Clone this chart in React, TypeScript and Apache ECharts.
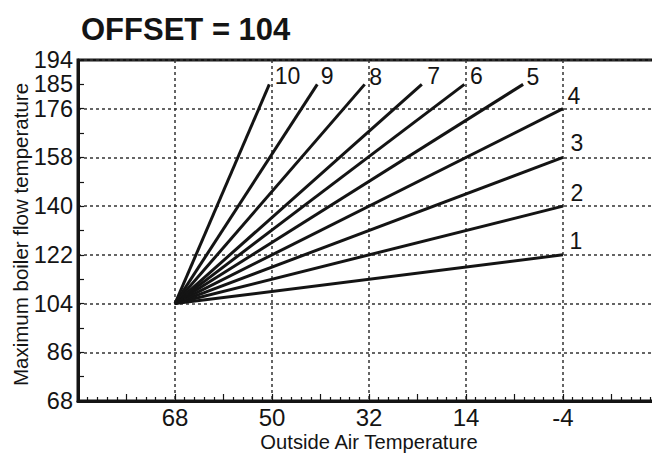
import React, { useEffect, useRef } from "react";
import * as echarts from "echarts";

// ---- data ----
const curveNames = ["1", "2", "3", "4", "5", "6", "7", "8", "9", "10"];
const originX = 68; // outside air temperature where all curves start
const originY = 104; // offset
const endX = [-4, -4, -4, -4, 3.4, 14.3, 22.2, 32.8, 41.6, 50.5];
const endY = [122, 140, 158, 176, 185, 185, 185, 185, 185, 185];
const xTickLabels = [68, 50, 32, 14, -4];
const yTickLabels = [68, 86, 104, 122, 140, 158, 176, 185, 194];
const titleText = "OFFSET = 104";
const xName = "Outside Air Temperature";
const yName = "Maximum boiler flow temperature";

// ---- styling ----
const labelOffsets: [number, number][] = [
  [6, -14],
  [7, -13],
  [7, -14],
  [4, -13],
  [3, -7],
  [5, -8],
  [5, -8],
  [4, -7],
  [3, -8],
  [5, -8],
];
const INK = "#141414";
const FONT = "'Liberation Sans', Arial, Helvetica, sans-serif";

export default function App() {
  const ref = useRef<HTMLDivElement>(null);

  useEffect(() => {
    if (!ref.current) return;
    const chart = echarts.init(ref.current, undefined, { renderer: "svg" });

    const lineSeries = curveNames.map((name, i) => ({
      type: "line",
      name,
      xAxisIndex: 0,
      yAxisIndex: 0,
      symbol: "none",
      silent: true,
      lineStyle: { color: INK, width: 3 },
      data: [
        [originX, originY],
        [endX[i], endY[i]],
      ],
      z: 5,
    }));

    const labelSeries = {
      type: "scatter",
      xAxisIndex: 0,
      yAxisIndex: 0,
      symbolSize: 1,
      itemStyle: { color: "rgba(0,0,0,0)", opacity: 1 },
      silent: true,
      data: curveNames.map((name, i) => ({
        value: [endX[i], endY[i], name],
        label: {
          show: true,
          position: "right",
          distance: 0,
          offset: labelOffsets[i],
          formatter: name,
          color: INK,
          opacity: 1,
          textBorderWidth: 0,
          fontSize: 23,
          fontFamily: FONT,
        },
      })),
      z: 6,
    };

    const dotted = { color: "#333", width: 1.5, type: [3, 3] as any };

    chart.setOption({
      animation: false,
      backgroundColor: "#ffffff",
      title: {
        text: titleText,
        left: 76,
        top: 9,
        textStyle: {
          fontSize: 31,
          fontWeight: "bold",
          color: INK,
          fontFamily: FONT,
        },
      },
      grid: {
        left: 78,
        top: 60,
        right: -8,
        bottom: 52,
        containLabel: false,
        outerBoundsMode: "none",
        show: true,
        borderColor: INK,
        borderWidth: 3,
        backgroundColor: "transparent",
      },
      xAxis: [
        {
          type: "value",
          inverse: true,
          min: -22,
          max: 86,
          interval: 9,
          position: "bottom",
          name: xName,
          nameLocation: "middle",
          nameGap: 31,
          nameMoveOverlap: false,
          nameTextStyle: { fontSize: 20.2, color: INK, fontFamily: FONT },
          axisLine: { show: true, onZero: false, lineStyle: { color: INK, width: 3 } },
          axisTick: {
            show: true,
            inside: true,
            length: 7,
            lineStyle: { color: INK, width: 1.2 },
          },
          minorTick: {
            show: true,
            splitNumber: 5,
            length: 4,
            lineStyle: { color: INK, width: 1.2 },
          },
          axisLabel: {
            show: true,
            margin: 4,
            fontSize: 24,
            color: INK,
            fontFamily: FONT,
            formatter: (v: number) =>
              xTickLabels.includes(Math.round(v)) ? String(Math.round(v)) : "",
          },
          splitLine: { show: false },
        },
        {
          type: "value",
          inverse: true,
          min: -22,
          max: 86,
          interval: 18,
          position: "top",
          axisLine: { show: false, onZero: false },
          axisTick: { show: false },
          axisLabel: { show: false },
          splitLine: { show: true, lineStyle: dotted },
        },
      ],
      yAxis: [
        {
          type: "value",
          min: 68,
          max: 194,
          interval: 9,
          position: "left",
          name: yName,
          nameLocation: "middle",
          nameGap: 47,
          nameMoveOverlap: false,
          nameTextStyle: {
            fontSize: 20.5,
            color: INK,
            fontFamily: FONT,
            padding: [0, 8, 0, 0],
          },
          axisLine: { show: true, onZero: false, lineStyle: { color: INK, width: 3 } },
          axisTick: {
            show: true,
            inside: true,
            length: 6,
            lineStyle: { color: INK, width: 1.2 },
          },
          axisLabel: {
            show: true,
            margin: 5,
            fontSize: 23.5,
            color: INK,
            fontFamily: FONT,
            formatter: (v: number) =>
              yTickLabels.includes(Math.round(v)) ? String(Math.round(v)) : "",
          },
          splitLine: { show: false },
        },
        {
          type: "value",
          min: 68,
          max: 194,
          interval: 18,
          position: "right",
          axisLine: { show: false, onZero: false },
          axisTick: { show: false },
          axisLabel: { show: false },
          splitLine: { show: true, lineStyle: dotted },
        },
      ],
      series: [...lineSeries, labelSeries],
    } as any);

    return () => {
      chart.dispose();
    };
  }, []);

  return (
    <div
      ref={ref}
      style={{
        position: "absolute",
        left: 0,
        top: 0,
        width: 652,
        height: 453,
      }}
    />
  );
}
